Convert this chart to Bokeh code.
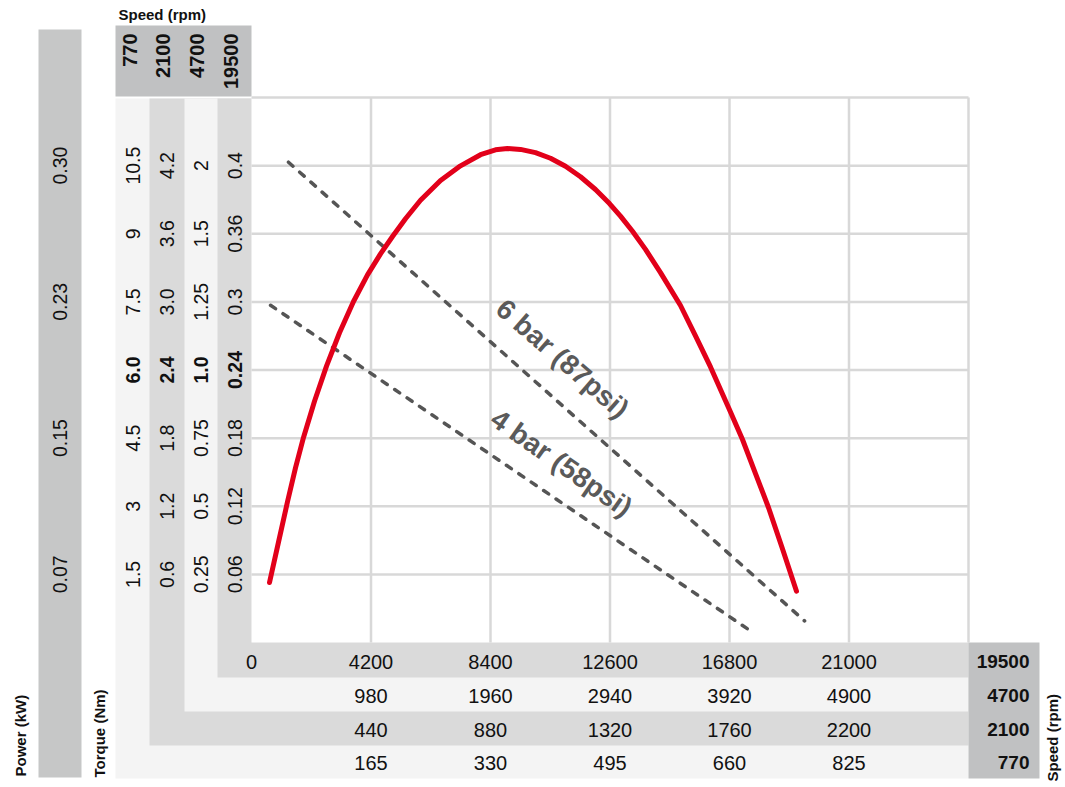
import math
from bokeh.plotting import figure
from bokeh.models import Range1d, ColumnDataSource
from bokeh.core.properties import value
from bokeh.embed import file_html
from bokeh.resources import INLINE

# ---------------- data ----------------
speed_ticks = [0, 4200, 8400, 12600, 16800, 21000]
speed_19500 = ["0", "4200", "8400", "12600", "16800", "21000"]
speed_4700 = ["", "980", "1960", "2940", "3920", "4900"]
speed_2100 = ["", "440", "880", "1320", "1760", "2200"]
speed_770 = ["", "165", "330", "495", "660", "825"]
speed_row_names = ["19500", "4700", "2100", "770"]
header_names = ["770", "2100", "4700", "19500"]

level_ticks = [0.06, 0.12, 0.18, 0.24, 0.30, 0.36, 0.42]
torque_770 = ["1.5", "3", "4.5", "6.0", "7.5", "9", "10.5"]
torque_2100 = ["0.6", "1.2", "1.8", "2.4", "3.0", "3.6", "4.2"]
torque_4700 = ["0.25", "0.5", "0.75", "1.0", "1.25", "1.5", "2"]
torque_19500 = ["0.06", "0.12", "0.18", "0.24", "0.3", "0.36", "0.4"]
bold_tick = 0.24

power_ticks = [0.06, 0.18, 0.30, 0.42]
power_labels = ["0.07", "0.15", "0.23", "0.30"]

curve_speed = [633, 949, 1265, 1546, 1828, 2214, 2636, 3093, 3585, 4077, 4534,
               4956, 5412, 5940, 6643, 7346, 8049, 8576, 8997, 9454, 9981,
               10509, 11036, 11563, 12090, 12582, 12969, 13391, 13848, 14375,
               15078, 15605, 16132, 16800, 17257, 17714, 18170, 18667, 19155]
curve_level = [0.0528, 0.0884, 0.1239, 0.1538, 0.1806, 0.2125, 0.2434, 0.2728,
               0.3003, 0.3238, 0.3423, 0.3576, 0.3732, 0.3895, 0.4069, 0.4198,
               0.4296, 0.4339, 0.4351, 0.4343, 0.4314, 0.4265, 0.4194, 0.4102,
               0.3990, 0.3866, 0.3755, 0.3622, 0.3462, 0.3258, 0.2968, 0.2701,
               0.2427, 0.2050, 0.1788, 0.1488, 0.1189, 0.0821, 0.0452]

bar6_speed = [1300, 19440]
bar6_level = [0.423, 0.019]
bar4_speed = [670, 17610]
bar4_level = [0.297, 0.009]
bar_labels = ["6 bar (87psi)", "4 bar (58psi)"]
bar_label_speed = [10930, 10895]
bar_label_level = [0.250, 0.158]
bar_label_angle_deg = [-41, -35]

# ---------------- layout ----------------
W, H = 1065, 787
OFF = 0
PX_L, PX_R, PX_B, PX_T = 251, 968, 642, 97
X_MAX, Y_MAX = 25200, 0.48


def dx(px):
    return (px - PX_L) * X_MAX / (PX_R - PX_L)


def dy(py):
    return (PX_B - py) * Y_MAX / (PX_B - PX_T)


FONT = value("Liberation Sans")
LIGHT = "#f4f4f4"
DARK = "#dadada"
BLOCK = "#c0c1c2"
GRID = "#d8d8d8"
RED = "#e2001a"
DASH = "#555555"

p = figure(width=W, height=H,
           x_range=Range1d(dx(OFF), dx(OFF + W)), y_range=Range1d(dy(OFF + H), dy(OFF)),
           output_backend="svg", toolbar_location=None,
           x_axis_type=None, y_axis_type=None, min_border=0,
           outline_line_color=None, background_fill_color="white",
           border_fill_color="white")


def box(l, r, t, b, color):
    p.quad(left=dx(l), right=dx(r), top=dy(t), bottom=dy(b),
           fill_color=color, line_color=None)


box(38, 81, 29, 777, "#c6c7c7")      # power column
box(115, 251, 25, 96, BLOCK)          # top header
box(115, 968, 98, 778, LIGHT)
box(149, 968, 98, 745, DARK)
box(184, 968, 98, 711, LIGHT)
box(217, 968, 98, 677, DARK)
p.quad(left=0, right=X_MAX, top=Y_MAX, bottom=0, fill_color="white", line_color=None)
box(968, 1039, 642, 778, BLOCK)       # bottom-right block

# grid
gx = speed_ticks[1:] + [X_MAX]
p.segment(x0=gx, x1=gx, y0=[0] * len(gx), y1=[Y_MAX] * len(gx),
          line_color=GRID, line_width=2.5)
gy = level_ticks + [Y_MAX]
p.segment(x0=[0] * len(gy), x1=[X_MAX] * len(gy), y0=gy, y1=gy,
          line_color=GRID, line_width=2.5)

# curves
p.line(bar6_speed, bar6_level, line_color=DASH, line_width=3.5, line_dash="6 9",
       line_cap="round")
p.line(bar4_speed, bar4_level, line_color=DASH, line_width=3.5, line_dash="6 9",
       line_cap="round")
p.line(curve_speed, curve_level, line_color=RED, line_width=5, line_cap="round",
       line_join="round")

p.text(x=bar_label_speed, y=bar_label_level, text=bar_labels,
       angle=[math.radians(a) for a in bar_label_angle_deg],
       text_font=FONT, text_font_size="28px", text_font_style="bold",
       text_color="#5a5a5a", text_align="center", text_baseline="middle")

# bottom speed rows
rows = [speed_19500, speed_4700, speed_2100, speed_770]
row_y = [661, 695, 729, 762]
for labels, ypx in zip(rows, row_y):
    p.text(x=speed_ticks, y=[dy(ypx)] * len(speed_ticks), text=labels,
           text_font=FONT, text_font_size="20px", text_color="#111111",
           text_align="center", text_baseline="middle")
p.text(x=[dx(1029)] * 4, y=[dy(v) for v in row_y], text=speed_row_names,
       text_font=FONT, text_font_size="19px", text_font_style="bold",
       text_color="#111111", text_align="right", text_baseline="middle")

# left torque columns
cols = [torque_770, torque_2100, torque_4700, torque_19500]
col_x = [132.5, 166, 200, 234.5]
for labels, xpx in zip(cols, col_x):
    src = ColumnDataSource(dict(
        x=[dx(xpx)] * len(level_ticks), y=level_ticks, t=labels,
        s=["bold" if abs(v - bold_tick) < 1e-9 else "normal" for v in level_ticks]))
    p.text(x="x", y="y", text="t", text_font_style="s", source=src,
           angle=math.pi / 2, text_font=FONT, text_font_size="19.5px",
           text_color="#111111", text_align="center", text_baseline="middle")

# power column
p.text(x=[dx(59.5)] * len(power_ticks), y=power_ticks, text=power_labels,
       angle=math.pi / 2, text_font=FONT, text_font_size="19.5px",
       text_color="#111111", text_align="center", text_baseline="middle")

# header speeds
p.text(x=[dx(v) for v in [129.5, 162, 196, 230]], y=[dy(33)] * 4, text=header_names,
       angle=math.pi / 2, text_font=FONT, text_font_size="20px", text_font_style="bold",
       text_color="#111111", text_align="right", text_baseline="middle")

# titles
p.text(x=[dx(118)], y=[dy(14)], text=["Speed (rpm)"], text_font=FONT,
       text_font_size="15px", text_font_style="bold", text_color="#111111",
       text_align="left", text_baseline="middle")
p.text(x=[dx(20), dx(99), dx(1052)], y=[dy(776), dy(777), dy(781)],
       text=["Power (kW)", "Torque (Nm)", "Speed (rpm)"], angle=math.pi / 2,
       text_font=FONT, text_font_size="15px", text_font_style="bold",
       text_color="#111111", text_align="left", text_baseline="middle")

open("out.html", "w").write(file_html(p, INLINE))
